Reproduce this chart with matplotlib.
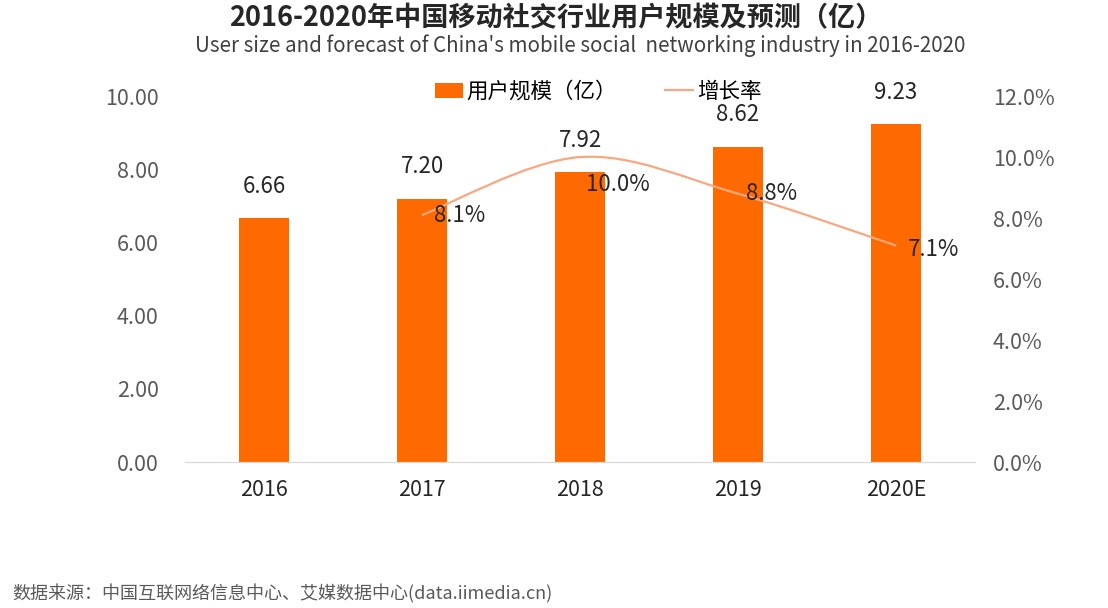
import matplotlib.pyplot as plt
from matplotlib.path import Path
from matplotlib.patches import PathPatch
from matplotlib.ticker import FuncFormatter

plt.rcParams['font.family'] = ['Noto Sans CJK SC', 'DejaVu Sans']

years = ['2016', '2017', '2018', '2019', '2020E']
users = [6.66, 7.20, 7.92, 8.62, 9.23]
growth_years = [1, 2, 3, 4]
growth = [8.1, 10.0, 8.8, 7.1]
growth_labels = ['8.1%', '10.0%', '8.8%', '7.1%']

bar_color = '#FF6A00'
line_color = '#F8A880'
tick_color = '#595959'

fig = plt.figure(figsize=(11.08, 6.08), dpi=100)
ax = fig.add_axes([0.167, 0.24, 0.713, 0.602])
ax2 = ax.twinx()

x = list(range(len(years)))
bars = ax.bar(x, users, width=0.32, color=bar_color, zorder=2, label='用户规模（亿）')
for xi, v in zip(x, users):
    ax.annotate(f'{v:.2f}', (xi, v), xytext=(0, 23), textcoords='offset points',
                ha='center', va='center', fontsize=16, color='#262626')

ax.set_xlim(-0.5, 4.5)
ax.set_ylim(0, 10)
ax.set_yticks([0, 2, 4, 6, 8, 10])
ax.yaxis.set_major_formatter(FuncFormatter(lambda v, p: f'{v:.2f}'))
ax.set_xticks(x)
ax.set_xticklabels(years)

ax2.set_ylim(0, 12)
ax2.set_yticks([0, 2, 4, 6, 8, 10, 12])
ax2.yaxis.set_major_formatter(FuncFormatter(lambda v, p: f'{v:.1f}%'))

# smooth line through the growth points (Catmull-Rom as cubic Bezier)
pts = list(zip(growth_years, growth))
verts = [pts[0]]
codes = [Path.MOVETO]
for i in range(len(pts) - 1):
    p0 = pts[i - 1] if i > 0 else pts[i]
    p1 = pts[i]
    p2 = pts[i + 1]
    p3 = pts[i + 2] if i + 2 < len(pts) else pts[i + 1]
    c1 = (p1[0] + (p2[0] - p0[0]) / 6, p1[1] + (p2[1] - p0[1]) / 6)
    c2 = (p2[0] - (p3[0] - p1[0]) / 6, p2[1] - (p3[1] - p1[1]) / 6)
    verts += [c1, c2, p2]
    codes += [Path.CURVE4] * 3
ax2.add_patch(PathPatch(Path(verts, codes), facecolor='none', edgecolor=line_color,
                        lw=1.6, zorder=3))
line_handle, = ax2.plot([], [], color=line_color, lw=1.6, label='增长率')

offsets = [(27, 0), (27, -20), (24, 0), (27, -3)]
for xi, v, lab, off in zip(growth_years, growth, growth_labels, offsets):
    ax2.annotate(lab, (xi, v), xytext=off, textcoords='offset points',
                 ha='center', va='center', fontsize=16, color='#262626', zorder=4)

for a in (ax, ax2):
    for s in ['top', 'left', 'right']:
        a.spines[s].set_visible(False)
    a.spines['bottom'].set_color('#D9D9D9')
    a.tick_params(length=0, labelsize=15.5, labelcolor=tick_color)
ax.tick_params(axis='x', labelcolor='#262626', pad=12)
ax.tick_params(axis='y', pad=19)
ax2.tick_params(axis='y', pad=13)

fig.legend(handles=[bars, line_handle], loc='center', ncol=2, frameon=False,
           bbox_to_anchor=(598 / 1108, 1 - 92 / 608), fontsize=15.5,
           handlelength=1.3, handletextpad=0.2, columnspacing=2.2)

fig.text(556 / 1108, 1 - 18 / 608, '2016-2020年中国移动社交行业用户规模及预测（亿）', ha='center',
         va='center', fontsize=19.5, fontweight='bold', color='#262626')
fig.text(580 / 1108, 1 - 46 / 608,
         "User size and forecast of China's mobile social  networking industry in 2016-2020",
         ha='center', va='center', fontsize=14.8, color='#404040')
fig.text(12 / 1108, 1 - 594 / 608, '数据来源：中国互联网络信息中心、艾媒数据中心(data.iimedia.cn)',
         ha='left', va='center', fontsize=13, color='#595959')

fig.savefig('out.png', dpi=100)
